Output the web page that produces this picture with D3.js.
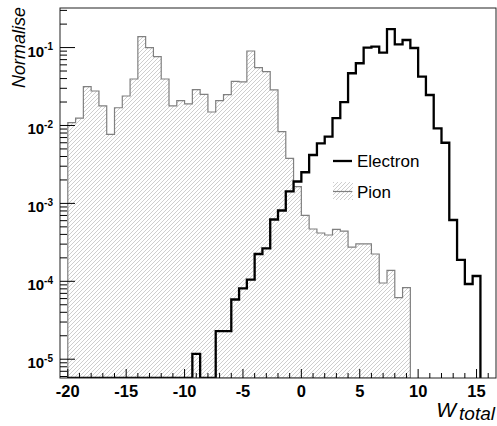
<!DOCTYPE html>
<html>
<head>
<meta charset="utf-8">
<script src="https://cdn.jsdelivr.net/npm/d3@7"></script>
<style>
    body { margin: 0; background: #fff; }
    svg text { font-family: "Liberation Sans", Arial, sans-serif; }
</style>
</head>
<body>
<div id="chart"></div>
<script>
// Histogram binning (both samples use the same bins)
const binStart = -20;
const binWidth = 2 / 3;

// Pion distribution, one value per bin starting at -20
const pionValues = [
    0.0109, 0.0124, 0.0315, 0.0277, 0.0178, 0.0077, 0.0169, 0.0239, 0.0395, 0.138,
    0.0998, 0.0764, 0.0395, 0.0178, 0.0209, 0.0189, 0.0289, 0.0251, 0.0149, 0.0209,
    0.0249, 0.0369, 0.0362, 0.0904, 0.0552, 0.0491, 0.0286, 0.00832, 0.00379, 0.00164,
    0.00070, 0.000469, 0.000417, 0.000393, 0.000465, 0.000440, 0.000275, 0.000303, 0.000303, 0.000224,
    0.0000951, 0.000138, 0.0000619, 0.0000832
];

// Electron distribution, one value per bin starting at -20 (0 = empty bin)
const electronValues = [
    0, 0, 0, 0, 0, 0, 0, 0, 0, 0,
    0, 0, 0, 0, 0, 0, 0.0000117, 0, 0, 0.0000230,
    0.0000230, 0.0000584, 0.0000813, 0.000105, 0.000224, 0.000265, 0.000621, 0.000811, 0.00143, 0.00191,
    0.00251, 0.00418, 0.00591, 0.00718, 0.0124, 0.0199, 0.0468, 0.0629, 0.0997, 0.1027,
    0.0860, 0.172, 0.110, 0.125, 0.0988, 0.0423, 0.0246, 0.0092, 0.0060, 0.000612,
    0.000188, 0.0000923, 0.000117
];

// Axis ticks and labels
const xMajorTicks = [-20, -15, -10, -5, 0, 5, 10, 15];
const yDecades = [-5, -4, -3, -2, -1];
const legendLabels = ["Electron", "Pion"];
const yTitle = "Normalise";

// Chart dimensions
const width = 497;
const height = 426;
const plot = { left: 60, right: 496, top: 8, bottom: 378 };
const xDomain = [-20.667, 16.667];
const yDomain = [5.74e-6, 0.322];

const svg = d3.select("#chart")
    .append("svg")
    .attr("width", width)
    .attr("height", height);

// Scales
const x = d3.scaleLinear().domain(xDomain).range([plot.left, plot.right]);
const y = d3.scaleLog().domain(yDomain).range([plot.bottom, plot.top]);

// Hatch pattern for the pion histogram
const defs = svg.append("defs");
const hatch = defs.append("pattern")
    .attr("id", "hatch")
    .attr("patternUnits", "userSpaceOnUse")
    .attr("width", 4)
    .attr("height", 4);
hatch.append("path")
    .attr("d", "M-1,1 l2,-2 M0,4 l4,-4 M3,5 l2,-2")
    .attr("stroke", "#bdbdbd")
    .attr("stroke-width", 0.75);

defs.append("clipPath")
    .attr("id", "plotClip")
    .append("rect")
    .attr("x", plot.left)
    .attr("y", plot.top)
    .attr("width", plot.right - plot.left)
    .attr("height", plot.bottom - plot.top);

// Turn bin values into step outline points
function stepPoints(values) {
    const pts = [[binStart, yDomain[0]]];
    values.forEach(function (v, i) {
        const v2 = v > yDomain[0] ? v : yDomain[0];
        pts.push([binStart + i * binWidth, v2]);
        pts.push([binStart + (i + 1) * binWidth, v2]);
    });
    pts.push([binStart + values.length * binWidth, yDomain[0]]);
    return pts;
}

const line = d3.line()
    .x(d => x(d[0]))
    .y(d => y(d[1]));

const histG = svg.append("g").attr("clip-path", "url(#plotClip)");

// Pion histogram (hatched)
histG.append("path")
    .attr("d", line(stepPoints(pionValues)) + "Z")
    .attr("fill", "url(#hatch)")
    .attr("stroke", "#808080")
    .attr("stroke-width", 1.2);

// Electron histogram (thick black line)
histG.append("path")
    .attr("d", line(stepPoints(electronValues)))
    .attr("fill", "none")
    .attr("stroke", "#000")
    .attr("stroke-width", 2.3);

// Frame
svg.append("rect")
    .attr("x", plot.left)
    .attr("y", plot.top)
    .attr("width", plot.right - plot.left)
    .attr("height", plot.bottom - plot.top)
    .attr("fill", "none")
    .attr("stroke", "#222")
    .attr("stroke-width", 1);

// X ticks (inside, major every 5, minor every 1)
const xAxisG = svg.append("g");
d3.range(-20, 17, 1).forEach(function (t) {
    const major = t % 5 === 0;
    xAxisG.append("line")
        .attr("x1", x(t)).attr("x2", x(t))
        .attr("y1", plot.bottom).attr("y2", plot.bottom - (major ? 9 : 5))
        .attr("stroke", "#000").attr("stroke-width", 1);
});
xAxisG.selectAll(".xlab")
    .data(xMajorTicks)
    .enter().append("text")
    .attr("x", d => x(d))
    .attr("y", 396.5)
    .attr("text-anchor", "middle")
    .style("font-size", "16.5px")
    .style("font-weight", "bold")
    .text(d => d);

// Y ticks (inside, major at decades, minor at 2..9)
const yAxisG = svg.append("g");
for (let e = -6; e <= -1; e++) {
    for (let m = 1; m <= 9; m++) {
        const v = m * Math.pow(10, e);
        if (v < yDomain[0] || v > yDomain[1]) continue;
        yAxisG.append("line")
            .attr("x1", plot.left).attr("x2", plot.left + (m === 1 ? 15 : 7))
            .attr("y1", y(v)).attr("y2", y(v))
            .attr("stroke", "#000").attr("stroke-width", 1);
    }
}
yDecades.forEach(function (e) {
    const yy = y(Math.pow(10, e));
    const t = yAxisG.append("text")
        .attr("x", 53)
        .attr("y", yy + 9)
        .attr("text-anchor", "end")
        .style("font-weight", "bold");
    t.append("tspan").style("font-size", "15px").text("10");
    t.append("tspan").attr("dy", -6.5).style("font-size", "10px").text(e);
});

// Axis titles
svg.append("text")
    .attr("transform", "translate(25,7) rotate(-90)")
    .attr("text-anchor", "end")
    .style("font-size", "18px")
    .style("font-style", "italic")
    .text(yTitle);

const xTitle = svg.append("text")
    .attr("x", 495)
    .attr("y", 417)
    .attr("text-anchor", "end")
    .style("font-style", "italic");
xTitle.append("tspan").style("font-size", "21px").text("W");
xTitle.append("tspan").attr("dy", 3).attr("dx", 3).style("font-size", "19px").text("total");

// Legend
const legend = svg.append("g");
legend.append("line")
    .attr("x1", 333).attr("x2", 352)
    .attr("y1", 161).attr("y2", 161)
    .attr("stroke", "#000").attr("stroke-width", 2.3);
legend.append("rect")
    .attr("x", 333).attr("y", 182)
    .attr("width", 20).attr("height", 18)
    .attr("fill", "url(#hatch)");
legend.append("line")
    .attr("x1", 333).attr("x2", 352)
    .attr("y1", 191.5).attr("y2", 191.5)
    .attr("stroke", "#808080").attr("stroke-width", 1.2);
legend.selectAll(".lab")
    .data(legendLabels)
    .enter().append("text")
    .attr("x", 357)
    .attr("y", (d, i) => 167 + i * 30.5)
    .style("font-size", "17px")
    .text(d => d);
</script>
</body>
</html>
